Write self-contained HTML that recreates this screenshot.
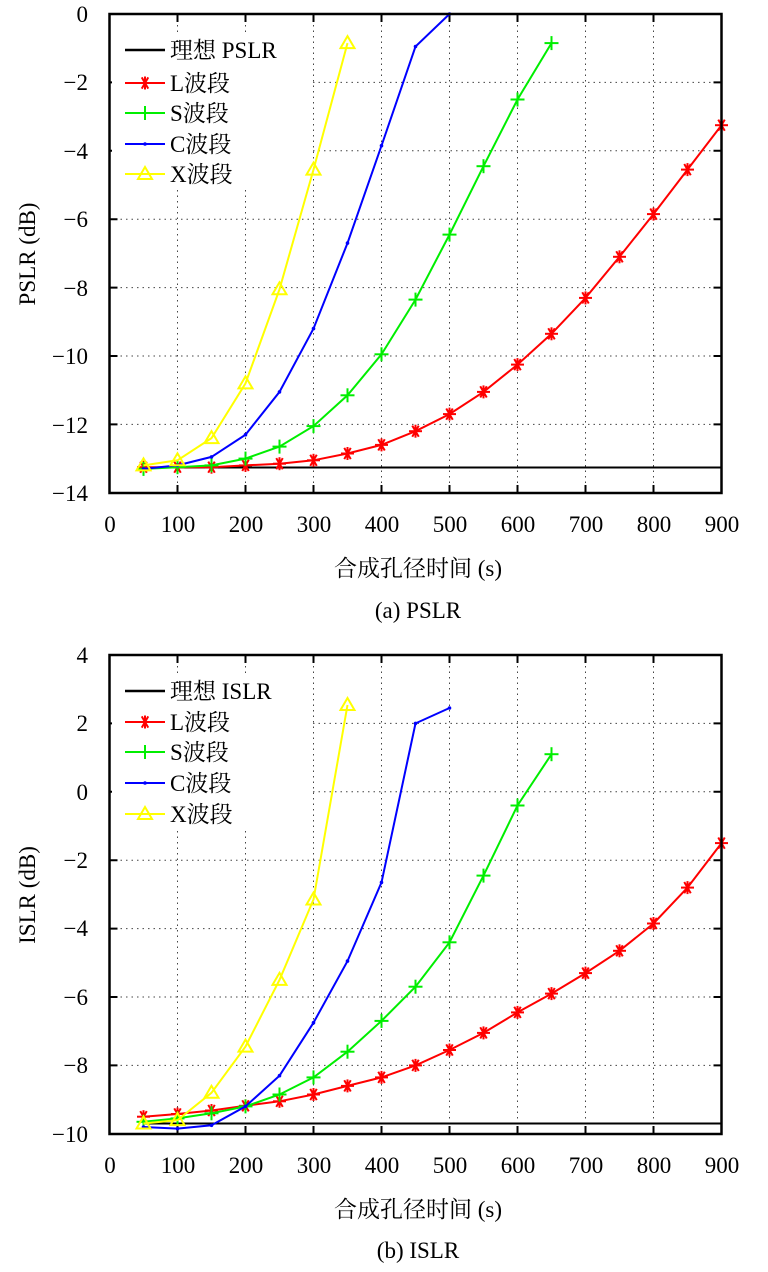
<!DOCTYPE html>
<html><head><meta charset="utf-8"><style>
body{margin:0;background:#fff}
svg{display:block}
text{font-family:"Liberation Serif","Noto Serif CJK SC",serif;font-size:23px;fill:#000}
.g{stroke:#444;stroke-width:1;stroke-dasharray:1.5,4;fill:none}
.t{stroke:#000;stroke-width:2}
.L{fill:none;stroke:#f00;stroke-width:2;marker-start:url(#mL);marker-mid:url(#mL);marker-end:url(#mL)}
.S{fill:none;stroke:#0e0;stroke-width:2;marker-start:url(#mS);marker-mid:url(#mS);marker-end:url(#mS)}
.C{fill:none;stroke:#00f;stroke-width:2;marker-start:url(#mC);marker-mid:url(#mC);marker-end:url(#mC)}
.X{fill:none;stroke:#ff0;stroke-width:2;marker-start:url(#mX);marker-mid:url(#mX);marker-end:url(#mX)}
.lg{marker-start:none;marker-end:none}
</style></head><body>
<svg width="768" height="1272" xmlns="http://www.w3.org/2000/svg">
<defs>
<marker id="mL" markerUnits="userSpaceOnUse" markerWidth="16" markerHeight="16" refX="8" refY="8" overflow="visible"><g stroke="#f00" stroke-width="2"><line x1="1.5" y1="8" x2="14.5" y2="8"/><line x1="4.75" y1="2.4" x2="11.25" y2="13.6"/><line x1="11.25" y1="2.4" x2="4.75" y2="13.6"/><line x1="8" y1="1.5" x2="8" y2="14.5"/></g></marker>
<marker id="mS" markerUnits="userSpaceOnUse" markerWidth="16" markerHeight="16" refX="8" refY="8" overflow="visible"><g stroke="#0e0" stroke-width="2"><line x1="1" y1="8" x2="15" y2="8"/><line x1="8" y1="1" x2="8" y2="15"/></g></marker>
<marker id="mC" markerUnits="userSpaceOnUse" markerWidth="6" markerHeight="6" refX="3" refY="3" overflow="visible"><circle cx="3" cy="3" r="1.8" fill="#00f"/></marker>
<marker id="mX" markerUnits="userSpaceOnUse" markerWidth="16" markerHeight="16" refX="8" refY="8" overflow="visible"><polygon points="8,1 1,13 15,13" fill="none" stroke="#ff0" stroke-width="2"/></marker>
</defs>

<g class="g">
<path d="M177.5 14V493M245.5 14V493M313.5 14V493M381.5 14V493M449.5 14V493M517.5 14V493M585.5 14V493M653.5 14V493M109.5 82.4H721.5M109.5 150.8H721.5M109.5 219.2H721.5M109.5 287.6H721.5M109.5 356H721.5M109.5 424.4H721.5"/>
</g>
<path class="t" d="M177.5 14v8M245.5 14v8M313.5 14v8M381.5 14v8M449.5 14v8M517.5 14v8M585.5 14v8M653.5 14v8M177.5 493v-8M245.5 493v-8M313.5 493v-8M381.5 493v-8M449.5 493v-8M517.5 493v-8M585.5 493v-8M653.5 493v-8M109.5 82.4h8M109.5 150.8h8M109.5 219.2h8M109.5 287.6h8M109.5 356h8M109.5 424.4h8M721.5 82.4h-8M721.5 150.8h-8M721.5 219.2h-8M721.5 287.6h-8M721.5 356h-8M721.5 424.4h-8"/>
<rect x="112" y="32" width="200" height="158" fill="#fff"/>
<line x1="143.5" y1="467.5" x2="721.5" y2="467.5" stroke="#000" stroke-width="2"/>
<polyline class="L" points="143.5,467.2 177.5,467.2 211.5,467.2 245.5,465.4 279.5,463.7 313.5,460.3 347.5,453.5 381.5,444.9 415.5,431.2 449.5,414.1 483.5,391.9 517.5,364.6 551.5,333.8 585.5,297.9 619.5,256.8 653.5,214.1 687.5,169.6 721.5,125.2"/>
<polyline class="S" points="143.5,468.9 177.5,467.2 211.5,465.4 245.5,458.6 279.5,446.6 313.5,426.1 347.5,395.3 381.5,354.3 415.5,299.6 449.5,234.6 483.5,166.2 517.5,99.5 551.5,43.1"/>
<polyline class="C" points="143.5,468.9 177.5,465.4 211.5,456.9 245.5,434.7 279.5,391.9 313.5,328.6 347.5,243.1 381.5,145.7 415.5,46.5 449.5,14"/>
<polyline class="X" points="143.5,465.4 177.5,460.3 211.5,438.1 245.5,383.4 279.5,289.3 313.5,169.6 347.5,43.1"/>
<line x1="125" y1="50" x2="165" y2="50" stroke="#000" stroke-width="2.5"/>
<polyline class="L lg" points="125,83 145,83 165,83"/>
<polyline class="S lg" points="125,113 145,113 165,113"/>
<polyline class="C lg" points="125,144 145,144 165,144"/>
<polyline class="X lg" points="125,174 145,174 165,174"/>
<rect x="109.5" y="14" width="612" height="479" fill="none" stroke="#000" stroke-width="2.5"/>

<g class="g">
<path d="M177.5 655V1134M245.5 655V1134M313.5 655V1134M381.5 655V1134M449.5 655V1134M517.5 655V1134M585.5 655V1134M653.5 655V1134M109.5 723.4H721.5M109.5 791.8H721.5M109.5 860.2H721.5M109.5 928.6H721.5M109.5 997H721.5M109.5 1065.4H721.5"/>
</g>
<path class="t" d="M177.5 655v8M245.5 655v8M313.5 655v8M381.5 655v8M449.5 655v8M517.5 655v8M585.5 655v8M653.5 655v8M177.5 1134v-8M245.5 1134v-8M313.5 1134v-8M381.5 1134v-8M449.5 1134v-8M517.5 1134v-8M585.5 1134v-8M653.5 1134v-8M109.5 723.4h8M109.5 791.8h8M109.5 860.2h8M109.5 928.6h8M109.5 997h8M109.5 1065.4h8M721.5 723.4h-8M721.5 791.8h-8M721.5 860.2h-8M721.5 928.6h-8M721.5 997h-8M721.5 1065.4h-8"/>
<rect x="112" y="673" width="200" height="158" fill="#fff"/>
<line x1="143.5" y1="1123.5" x2="721.5" y2="1123.5" stroke="#000" stroke-width="2"/>
<polyline class="L" points="143.5,1116.7 177.5,1114 211.5,1110.5 245.5,1105.8 279.5,1101.3 313.5,1094.5 347.5,1085.9 381.5,1077.4 415.5,1065.4 449.5,1050 483.5,1032.9 517.5,1012.4 551.5,993.6 585.5,973.1 619.5,950.8 653.5,923.5 687.5,887.6 721.5,843.1"/>
<polyline class="S" points="143.5,1121.8 177.5,1118.4 211.5,1113.3 245.5,1106.4 279.5,1094.5 313.5,1077.4 347.5,1051.7 381.5,1020.9 415.5,986.7 449.5,942.3 483.5,875.6 517.5,805.5 551.5,754.2"/>
<polyline class="C" points="143.5,1127 177.5,1128.6 211.5,1125.3 245.5,1106.4 279.5,1075.7 313.5,1022.7 347.5,961.1 381.5,882.4 415.5,723.4 449.5,708"/>
<polyline class="X" points="143.5,1123.5 177.5,1120.1 211.5,1092.8 245.5,1046.6 279.5,979.9 313.5,899.5 347.5,705"/>
<line x1="125" y1="691" x2="165" y2="691" stroke="#000" stroke-width="2.5"/>
<polyline class="L lg" points="125,722 145,722 165,722"/>
<polyline class="S lg" points="125,752 145,752 165,752"/>
<polyline class="C lg" points="125,783 145,783 165,783"/>
<polyline class="X lg" points="125,814 145,814 165,814"/>
<rect x="109.5" y="655" width="612" height="479" fill="none" stroke="#000" stroke-width="2.5"/>

<g text-anchor="end">
<text x="88" y="22">0</text><text x="88" y="90">−2</text><text x="88" y="159">−4</text><text x="88" y="227">−6</text><text x="88" y="296">−8</text><text x="88" y="364">−10</text><text x="88" y="433">−12</text><text x="88" y="501">−14</text>
<text x="88" y="663">4</text><text x="88" y="731">2</text><text x="88" y="800">0</text><text x="88" y="868">−2</text><text x="88" y="936">−4</text><text x="88" y="1005">−6</text><text x="88" y="1073">−8</text><text x="88" y="1142">−10</text>
</g>
<g text-anchor="middle">
<text x="110" y="532">0</text><text x="178" y="532">100</text><text x="246" y="532">200</text><text x="314" y="532">300</text><text x="382" y="532">400</text><text x="450" y="532">500</text><text x="518" y="532">600</text><text x="586" y="532">700</text><text x="654" y="532">800</text><text x="722" y="532">900</text>
<text x="110" y="1173">0</text><text x="178" y="1173">100</text><text x="246" y="1173">200</text><text x="314" y="1173">300</text><text x="382" y="1173">400</text><text x="450" y="1173">500</text><text x="518" y="1173">600</text><text x="586" y="1173">700</text><text x="654" y="1173">800</text><text x="722" y="1173">900</text>
<text x="418" y="576">合成孔径时间 (s)</text>
<text x="418" y="618">(a) PSLR</text>
<text x="418" y="1217">合成孔径时间 (s)</text>
<text x="418" y="1258">(b) ISLR</text>
<text transform="translate(35,254) rotate(-90)">PSLR (dB)</text>
<text transform="translate(35,895) rotate(-90)">ISLR (dB)</text>
</g>
<g>
<text x="170" y="58">理想 PSLR</text><text x="170" y="91">L波段</text><text x="170" y="121">S波段</text><text x="170" y="152">C波段</text><text x="170" y="182">X波段</text>
<text x="170" y="699">理想 ISLR</text><text x="170" y="730">L波段</text><text x="170" y="760">S波段</text><text x="170" y="791">C波段</text><text x="170" y="822">X波段</text>
</g>
</svg>
</body></html>
